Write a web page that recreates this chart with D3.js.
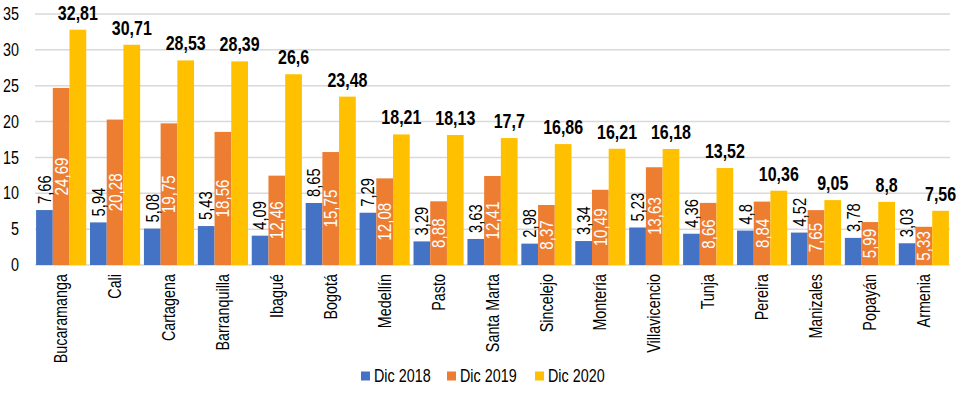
<!DOCTYPE html>
<html>
<head>
<meta charset="utf-8">
<script src="https://cdn.jsdelivr.net/npm/d3@7"></script>
<style>
  body { margin: 0; background: #fff; }
  svg { display: block; font-family: "Liberation Sans", Arial, sans-serif; }
</style>
</head>
<body>
<svg id="chart"></svg>
<script>
// data
let ciudades = ["Bucaramanga", "Cali", "Cartagena", "Barranquilla", "Ibagué", "Bogotá", "Medellín",
    "Pasto", "Santa Marta", "Sincelejo", "Montería", "Villavicencio", "Tunja", "Pereira",
    "Manizales", "Popayán", "Armenia"];
let dic2018 = [7.66, 5.94, 5.08, 5.43, 4.09, 8.65, 7.29, 3.29, 3.63, 2.98, 3.34, 5.23, 4.36, 4.8, 4.52, 3.78, 3.03];
let dic2019 = [24.69, 20.28, 19.75, 18.56, 12.46, 15.75, 12.08, 8.88, 12.41, 8.37, 10.49, 13.63, 8.66, 8.84, 7.65, 5.99, 5.33];
let dic2020 = [32.81, 30.71, 28.53, 28.39, 26.6, 23.48, 18.21, 18.13, 17.7, 16.86, 16.21, 16.18, 13.52, 10.36, 9.05, 8.8, 7.56];
let series = ["Dic 2018", "Dic 2019", "Dic 2020"];
let yTicks = [0, 5, 10, 15, 20, 25, 30, 35];

let width = 960, height = 397;
let colors = ["#4472C4", "#ED7D31", "#FFC000"];
let narrow = " scale(0.82,1)"; // no Arial Narrow installed, squeeze Liberation Sans instead
let fmt = v => String(v).replace(".", ",");

let svg = d3.select("#chart").attr("width", width).attr("height", height);

let x = d3.scaleBand().domain(ciudades).range([35, 950]).paddingInner(0.07).paddingOuter(0.02);
let xs = d3.scaleBand().domain(series).range([0, x.bandwidth()]);
let y = d3.scaleLinear().domain([0, 35]).range([265, 14]);

// gridlines
svg.append("g").selectAll("line")
    .data(yTicks)
    .enter().append("line")
    .attr("x1", 35).attr("x2", 950)
    .attr("y1", d => y(d)).attr("y2", d => y(d))
    .attr("stroke", "#d9d9d9").attr("stroke-width", 1.5);

// y tick labels
svg.append("g").selectAll("text")
    .data(yTicks)
    .enter().append("text")
    .attr("transform", d => "translate(19," + y(d) + ")" + narrow)
    .attr("dy", "0.35em")
    .attr("text-anchor", "end").attr("font-size", "17.5px").attr("fill", "#000")
    .text(d => d);

let rows = ciudades.map((c, i) => ({ c: c, v: [dic2018[i], dic2019[i], dic2020[i]] }));

let groups = svg.append("g").selectAll("g")
    .data(rows)
    .enter().append("g")
    .attr("transform", d => "translate(" + x(d.c) + ",0)");

groups.selectAll("rect")
    .data(d => d.v.map((v, k) => ({ s: series[k], v: v, k: k })))
    .enter().append("rect")
    .attr("x", d => xs(d.s))
    .attr("width", xs.bandwidth())
    .attr("y", d => y(d.v))
    .attr("height", d => y(0) - y(d.v))
    .attr("fill", d => colors[d.k]);

// Dic 2018 labels: rotated, above bar
groups.append("text")
    .attr("transform", d => "translate(" + (xs("Dic 2018") + xs.bandwidth() / 2) + "," + (y(d.v[0]) - 6) + ") rotate(-90)" + narrow)
    .attr("dy", "0.35em")
    .attr("font-size", "18px").attr("fill", "#000")
    .text(d => fmt(d.v[0]));

// Dic 2019 labels: rotated, white, centred in bar
groups.append("text")
    .attr("transform", d => "translate(" + (xs("Dic 2019") + xs.bandwidth() / 2) + "," + ((y(d.v[1]) + y(0)) / 2) + ") rotate(-90)" + narrow)
    .attr("dy", "0.35em").attr("text-anchor", "middle")
    .attr("font-size", "18.5px").attr("fill", "#fff")
    .text(d => fmt(d.v[1]));

// Dic 2020 labels: bold, above bar
groups.append("text")
    .attr("transform", d => "translate(" + (xs("Dic 2020") + xs.bandwidth() / 2) + "," + (y(d.v[2]) - 10) + ")" + narrow)
    .attr("text-anchor", "middle")
    .attr("font-size", "19.5px").attr("font-weight", "bold").attr("fill", "#000")
    .text(d => fmt(d.v[2]));

// category labels
svg.append("g").selectAll("text")
    .data(ciudades)
    .enter().append("text")
    .attr("transform", d => "translate(" + (x(d) + x.bandwidth() / 2) + ",274) rotate(-90)" + narrow)
    .attr("dy", "0.35em").attr("text-anchor", "end")
    .attr("font-size", "17.5px").attr("fill", "#000")
    .text(d => d);

// legend
let legendX = [361, 447, 535];
let legend = svg.append("g").selectAll("g")
    .data(series)
    .enter().append("g")
    .attr("transform", (d, i) => "translate(" + legendX[i] + ",376)");
legend.append("rect")
    .attr("x", 0).attr("y", -4.5).attr("width", 9).attr("height", 9)
    .attr("fill", (d, i) => colors[i]);
legend.append("text")
    .attr("transform", "translate(13,0)" + narrow)
    .attr("dy", "0.35em")
    .attr("font-size", "17.5px").attr("fill", "#000")
    .text(d => d);
</script>
</body>
</html>
